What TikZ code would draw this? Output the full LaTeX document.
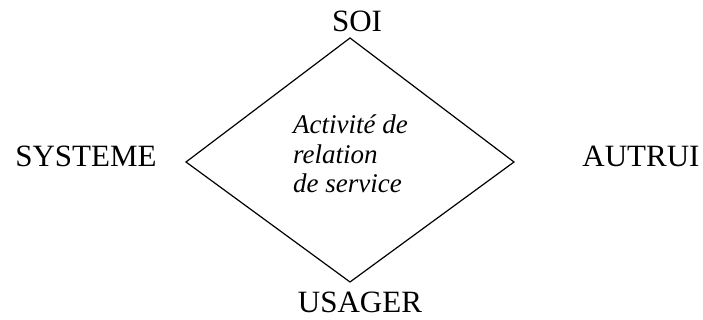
\documentclass[tikz,border=0pt]{standalone}
\usepackage{fontspec}
\setmainfont{Liberation Serif}
\begin{document}
\begin{tikzpicture}[x=1pt,y=1pt,
  lbl/.style={anchor=base,inner sep=0pt,font=\fontsize{31}{36}\selectfont},
  itl/.style={anchor=base west,inner sep=0pt,font=\fontsize{27}{30}\selectfont\itshape},
  edge/.style={draw=black,line width=1.2pt,line join=miter}]
\useasboundingbox (0,0) rectangle (703,320);
\coordinate (t) at (350,282);
\coordinate (r) at (514,158);
\coordinate (b) at (350,38);
\coordinate (l) at (186,158);
\draw[edge] (t) -- (r) -- (b) -- (l) -- cycle;
\node[lbl] (soi) at (357,288) {SOI};
\node[lbl,text depth=0pt] (usager) at (360,7) {USAGER};
\node[lbl] (systeme) at (86,153) {SYSTEME};
\node[lbl] (autrui) at (641,153) {AUTRUI};
\node[itl] (l1) at (293,186) {Activité de};
\node[itl] (l2) at (293,156) {relation};
\node[itl] (l3) at (293,127) {de service};
\end{tikzpicture}
\end{document}
